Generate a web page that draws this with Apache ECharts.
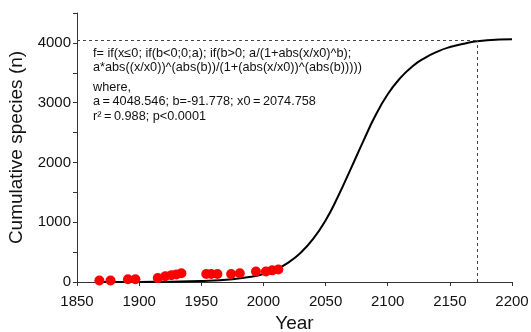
<!DOCTYPE html>
<html>
<head>
<meta charset="utf-8">
<script src="https://cdn.jsdelivr.net/npm/echarts@6/dist/echarts.min.js"></script>
<style>
  html, body { margin: 0; padding: 0; background: #fff; }
  #chart { width: 531px; height: 332px; }
</style>
</head>
<body>
<div id="chart"></div>
<script>
// Observed cumulative species counts by year
const obsYears  = [1868, 1877, 1891, 1897, 1915, 1921, 1926, 1930, 1934, 1954, 1958, 1963, 1974, 1981, 1994, 2002, 2007, 2012];
const obsCounts = [25, 25, 45, 45, 65, 95, 115, 125, 145, 135, 135, 135, 135, 145, 175, 175, 195, 210];

// Fitted curve, sampled along the year axis
const curveYears  = [1865, 1880, 1900, 1925, 1950, 1975, 1990, 2000, 2010, 2020, 2030, 2040, 2050, 2060, 2070, 2080, 2090, 2100, 2110, 2120, 2130, 2140, 2150, 2160, 2170, 2180, 2190, 2200];
const curveValues = [0, 1, 2, 5, 15, 45, 88, 135, 210, 325, 490, 720, 1030, 1430, 1880, 2340, 2780, 3140, 3410, 3610, 3750, 3855, 3930, 3980, 4022, 4045, 4055, 4060];

// Asymptote of the fit and the year where the curve levels off
const asymptote = 4048.546;
const plateauYear = 2172;

// Tick labels
const xTicks = ['1850', '1900', '1950', '2000', '2050', '2100', '2150', '2200'];
const yTicks = ['0', '1000', '2000', '3000', '4000'];

// Fit annotation lines
const noteLines = [
  'f= if(x\u22640; if(b<0;0;a); if(b>0; a/(1+abs(x/x0)^b);',
  'a*abs((x/x0))^(abs(b))/(1+(abs(x/x0))^(abs(b)))))',
  'where,',
  'a\u2009=\u20094048.546; b=-91.778; x0\u2009=\u20092074.758',
  'r\u00B2\u2009=\u20090.988; p<0.0001'
];
const noteTops = [53, 67.5, 87, 101.5, 116];

const FONT = '"Liberation Sans", Arial, Helvetica, sans-serif';
const AXIS_COLOR = '#333';

const chart = echarts.init(document.getElementById('chart'), null, { renderer: 'canvas' });

const option = {
  animation: false,
  backgroundColor: '#fff',
  grid: { left: 77, right: 19, top: 13, bottom: 50, containLabel: false, outerBoundsMode: 'none' },
  xAxis: {
    type: 'value',
    min: 1850, max: 2200, interval: 50,
    name: 'Year',
    nameLocation: 'middle',
    nameGap: 31,
    nameTextStyle: { fontFamily: FONT, fontSize: 19, color: '#111' },
    axisLine: { show: true, onZero: false, lineStyle: { color: AXIS_COLOR, width: 1 } },
    axisTick: { show: true, length: 4, lineStyle: { color: AXIS_COLOR } },
    axisLabel: {
      margin: 12, fontFamily: FONT, fontSize: 15, color: '#111',
      formatter: v => (xTicks.indexOf(String(v)) >= 0 ? String(v) : '')
    },
    splitLine: { show: false }
  },
  yAxis: {
    type: 'value',
    min: 0, max: 4500, interval: 500,
    name: 'Cumulative species (n)',
    nameLocation: 'middle',
    nameGap: 50,
    nameTextStyle: { fontFamily: FONT, fontSize: 19, color: '#111' },
    axisLine: { show: true, lineStyle: { color: AXIS_COLOR, width: 1 } },
    axisTick: { show: true, length: 4, lineStyle: { color: AXIS_COLOR } },
    axisLabel: {
      margin: 6, fontFamily: FONT, fontSize: 15, color: '#111',
      formatter: v => (yTicks.indexOf(String(v)) >= 0 ? String(v) : '')
    },
    splitLine: { show: false }
  },
  series: [
    {
      name: 'fit',
      type: 'line',
      smooth: true,
      showSymbol: false,
      symbol: 'none',
      z: 2,
      lineStyle: { color: '#000', width: 2 },
      data: curveYears.map((y, i) => [y, curveValues[i]]),
      markLine: {
        silent: true,
        symbol: 'none',
        label: { show: false },
        lineStyle: { color: '#444', type: [3, 3], width: 1 },
        data: [
          [{ coord: [1850, asymptote] }, { coord: [plateauYear, asymptote] }],
          [{ coord: [plateauYear, 0] }, { coord: [plateauYear, asymptote] }]
        ]
      }
    },
    {
      name: 'observed',
      type: 'scatter',
      z: 3,
      symbol: 'circle',
      symbolSize: 10,
      itemStyle: { color: '#ff0000', opacity: 1 },
      data: obsYears.map((y, i) => [y, obsCounts[i]])
    }
  ],
  graphic: noteLines.map((t, i) => ({
    type: 'text',
    x: 93,
    y: noteTops[i],
    style: {
      text: t,
      fill: '#111',
      font: '12.7px ' + FONT,
      verticalAlign: 'middle',
      align: 'left'
    }
  }))
};

chart.setOption(option);
</script>
</body>
</html>
